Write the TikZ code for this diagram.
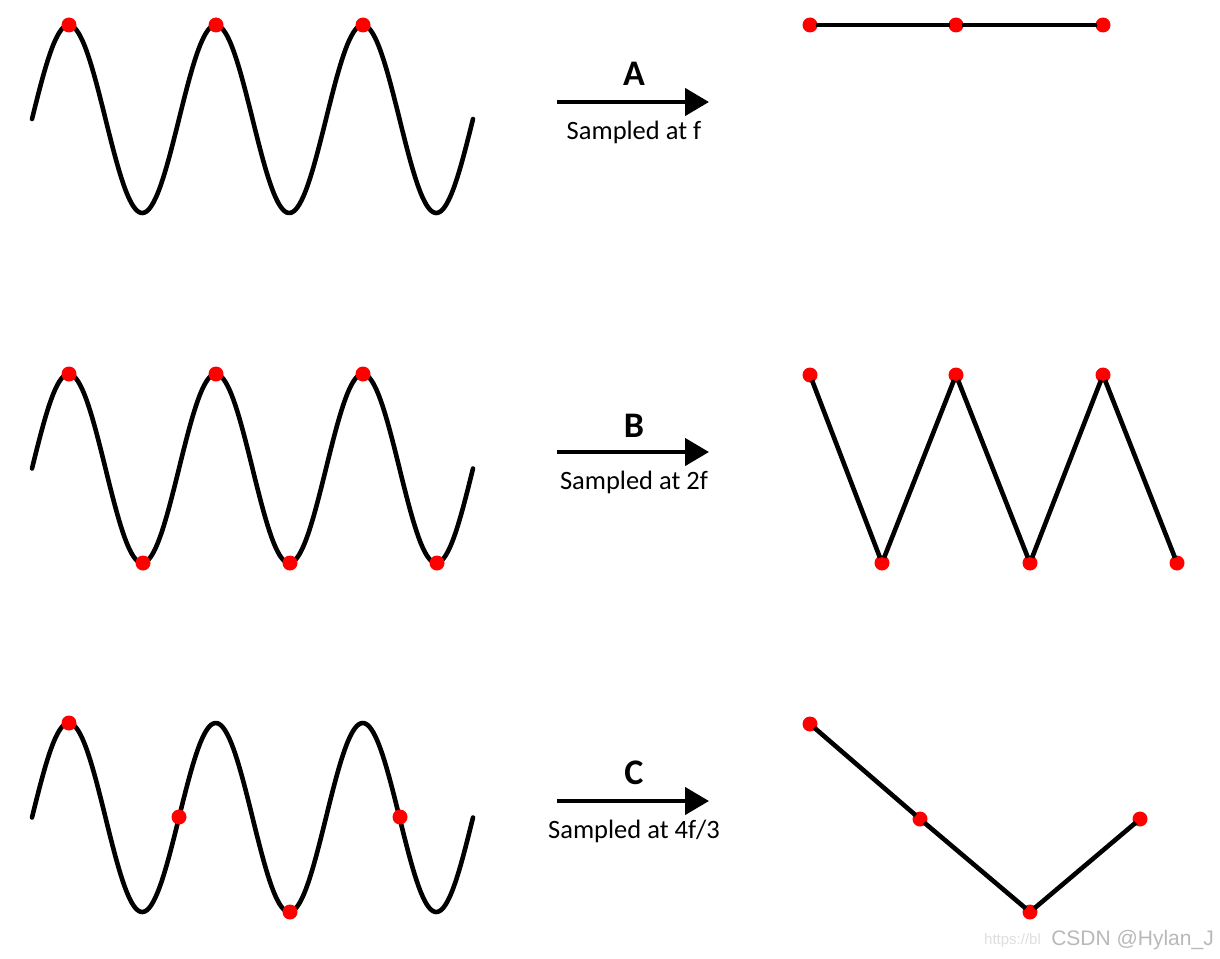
\documentclass[tikz,border=0pt]{standalone}
\usepackage{fontspec}
\setmainfont{Carlito}
\newfontfamily\wmfont{Liberation Sans}
\usetikzlibrary{arrows.meta}
\tikzset{
  wave/.style={line width=4.6pt, line join=round, line cap=round},
  seg/.style={line width=4.6pt, shorten <=-2pt, shorten >=-2pt},
  dot/.style={circle, fill=red, draw=none, minimum size=15pt, inner sep=0pt},
  samparrow/.style={line width=4.5pt, -{Triangle[length=24pt,width=27pt]}},
  lettr/.style={font=\fontsize{36}{40}\selectfont\bfseries},
  caption/.style={font=\fontsize{26.5}{30}\selectfont},
}
\begin{document}
\begin{tikzpicture}[x=1pt,y=-1pt]
\useasboundingbox[fill=white] (0,0) rectangle (1220,958);

% ---- sine waves
\draw[wave] plot[domain=32:473, samples=240, smooth] (\x, {119-94*sin((\x-32)/147*360)});
\draw[wave] plot[domain=32:473, samples=240, smooth] (\x, {468.5-94.5*sin((\x-32)/147*360)});
\draw[wave] plot[domain=32:473, samples=240, smooth] (\x, {817.5-94.5*sin((\x-32)/147*360)});

% ---- row A left dots
\node[dot] (la1) at (69,25) {};
\node[dot] (la2) at (216,25) {};
\node[dot] (la3) at (363,25) {};
% ---- row B left dots
\node[dot] (lb1) at (69,374) {};
\node[dot] (lb2) at (143,563) {};
\node[dot] (lb3) at (216,374) {};
\node[dot] (lb4) at (290,563) {};
\node[dot] (lb5) at (363,374) {};
\node[dot] (lb6) at (437,563) {};
% ---- row C left dots
\node[dot] (lc1) at (69,723) {};
\node[dot] (lc2) at (179,817) {};
\node[dot] (lc3) at (290,912) {};
\node[dot] (lc4) at (400,817) {};

% ---- arrows and labels
\coordinate (as) at (557,102); \coordinate (ae) at (709,102);
\draw[samparrow] (as) -- (ae);
\node[lettr] (A) at (634,74) {A};
\node[caption] (capA) at (634,132) {Sampled at f};

\coordinate (bs) at (557,452); \coordinate (be) at (709,452);
\draw[samparrow] (bs) -- (be);
\node[lettr] (B) at (634,426) {B};
\node[caption] (capB) at (634,482) {Sampled at 2f};

\coordinate (cs) at (557,801); \coordinate (ce) at (709,801);
\draw[samparrow] (cs) -- (ce);
\node[lettr] (C) at (634,773) {C};
\node[caption] (capC) at (634,831) {Sampled at 4f/3};

% ---- right side: row A
\node[dot] (ra1) at (810,25) {};
\node[dot] (ra2) at (956,25) {};
\node[dot] (ra3) at (1103,25) {};
\draw[seg] (ra1) -- (ra2);
\draw[seg] (ra2) -- (ra3);

% ---- right side: row B
\node[dot] (rb1) at (810,375) {};
\node[dot] (rb2) at (882,563) {};
\node[dot] (rb3) at (956,375) {};
\node[dot] (rb4) at (1030,563) {};
\node[dot] (rb5) at (1103,375) {};
\node[dot] (rb6) at (1177,563) {};
\draw[seg] (rb1) -- (rb2);
\draw[seg] (rb2) -- (rb3);
\draw[seg] (rb3) -- (rb4);
\draw[seg] (rb4) -- (rb5);
\draw[seg] (rb5) -- (rb6);

% ---- right side: row C
\node[dot] (rc1) at (810,724) {};
\node[dot] (rc2) at (920,819) {};
\node[dot] (rc3) at (1030,912) {};
\node[dot] (rc4) at (1140,819) {};
\draw[seg] (rc1) -- (rc2);
\draw[seg] (rc2) -- (rc3);
\draw[seg] (rc3) -- (rc4);

% ---- watermark
\node[font=\wmfont\fontsize{15}{18}\selectfont, text=gray!25, anchor=west, inner sep=0pt] (url) at (984,941) {https://bl};
\node[font=\wmfont\fontsize{21}{24}\selectfont, text=gray!55, anchor=east, inner sep=0pt] (wm) at (1214,940) {CSDN @Hylan\_J};
\end{tikzpicture}
\end{document}
